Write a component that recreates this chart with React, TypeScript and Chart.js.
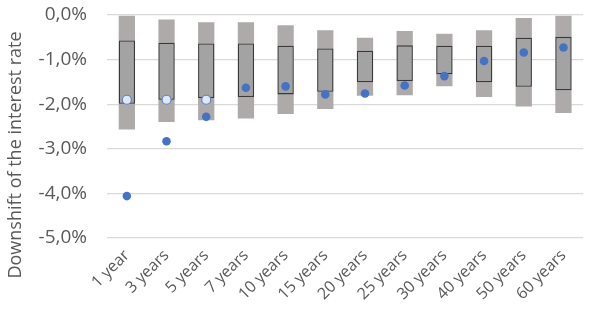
import React, { useEffect, useRef } from "react";
import { Chart, registerables } from "chart.js";

Chart.register(...registerables);

const categories = ["1 year", "3 years", "5 years", "7 years", "10 years", "15 years", "20 years", "25 years", "30 years", "40 years", "50 years", "60 years"];
const rangeMax = [0.0, -0.10, -0.16, -0.16, -0.23, -0.34, -0.51, -0.36, -0.42, -0.34, -0.07, 0.0];
const rangeMin = [-2.57, -2.40, -2.36, -2.32, -2.22, -2.11, -1.81, -1.80, -1.60, -1.84, -2.05, -2.20];
const boxTop = [-0.57, -0.62, -0.64, -0.64, -0.69, -0.75, -0.80, -0.68, -0.69, -0.69, -0.51, -0.49];
const boxBottom = [-1.99, -1.90, -1.86, -1.84, -1.78, -1.72, -1.51, -1.48, -1.33, -1.51, -1.61, -1.69];
const bluePoints = [-4.06, -2.83, -2.28, -1.63, -1.60, -1.78, -1.76, -1.58, -1.37, -1.03, -0.84, -0.73];
const whitePoints = [-1.90, -1.90, -1.90, null, null, null, null, null, null, null, null, null];
const yTicks = [0, -1, -2, -3, -4, -5];
const yTitle = "Downshift of the interest rate";

const FONT = "'Open Sans', sans-serif";
const TEXT = "#595959";

const titlePlugin = {
  id: "yTitle",
  afterDraw(chart: any) {
    const ctx = chart.ctx;
    ctx.save();
    ctx.translate(16, 155);
    ctx.rotate(-Math.PI / 2);
    ctx.fillStyle = TEXT;
    ctx.font = `18px ${FONT}`;
    ctx.textAlign = "center";
    ctx.textBaseline = "middle";
    ctx.fillText(yTitle, 0, 0);
    ctx.restore();
  },
};

export default function App() {
  const ref = useRef<HTMLCanvasElement | null>(null);
  useEffect(() => {
    if (!ref.current) return;
    const chart = new Chart(ref.current, {
      type: "bar",
      data: {
        labels: categories,
        datasets: [
          {
            type: "line",
            data: whitePoints,
            showLine: false,
            pointRadius: 4.5,
            pointBackgroundColor: "#dde9f6",
            pointBorderColor: "#5a88c4",
            pointBorderWidth: 1.2,
          } as any,
          {
            type: "line",
            data: bluePoints,
            showLine: false,
            pointRadius: 4.3,
            pointBackgroundColor: "#4472c4",
            pointBorderColor: "#4472c4",
            pointBorderWidth: 0,
          } as any,
          {
            type: "bar",
            data: categories.map((_, i) => [boxBottom[i], boxTop[i]]),
            backgroundColor: "#a3a3a3",
            borderColor: "#3a3a3a",
            borderWidth: 1.3,
            borderSkipped: false,
            grouped: false,
            barPercentage: 0.41,
            categoryPercentage: 1,
          } as any,
          {
            type: "bar",
            data: categories.map((_, i) => [rangeMin[i], rangeMax[i]]),
            backgroundColor: "#aeaaaa",
            borderWidth: 0,
            grouped: false,
            barPercentage: 0.41,
            categoryPercentage: 1,
          } as any,
        ],
      },
      options: {
        animation: false,
        responsive: false,
        maintainAspectRatio: false,
        layout: { padding: { left: 0, right: 5, top: 15, bottom: 0 } },
        plugins: { legend: { display: false }, tooltip: { enabled: false } },
        scales: {
          x: {
            grid: { display: false },
            border: { display: false },
            ticks: {
              color: TEXT,
              font: { family: FONT, size: 16 },
              minRotation: 45,
              maxRotation: 45,
              padding: 0,
            },
            afterFit: (s: any) => { s.height = 86; },
          },
          y: {
            min: -5,
            max: 0,
            afterBuildTicks: (s: any) => { s.ticks = yTicks.map((v) => ({ value: v })); },
            grid: { color: "#d9d9d9", lineWidth: 1.3, drawTicks: true, tickLength: 20, tickColor: "rgba(0,0,0,0)" },
            border: { display: false },
            ticks: {
              color: TEXT,
              font: { family: FONT, size: 19 },
              padding: 0,
              callback: (v: any) => Number(v).toFixed(1).replace(".", ",") + "%",
            },
            afterFit: (s: any) => { s.width = 107; },
          },
        },
      },
      plugins: [titlePlugin],
    });
    return () => chart.destroy();
  }, []);
  return (
    <div style={{ position: "fixed", left: 0, top: 0, width: 589, height: 324, background: "#fff" }}>
      <canvas ref={ref} width={589} height={324} style={{ width: 589, height: 324, display: "block" }} />
    </div>
  );
}
